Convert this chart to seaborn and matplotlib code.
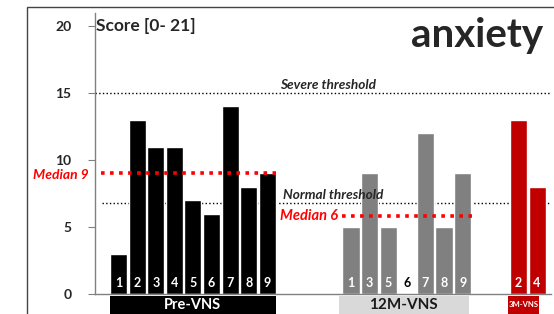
import numpy as np
import pandas as pd
import matplotlib
matplotlib.use("Agg")
import matplotlib.pyplot as plt
import matplotlib.transforms as mtransforms
from matplotlib.patches import Rectangle
import seaborn as sns

# ---------------- data ----------------
pre_ids = ["1", "2", "3", "4", "5", "6", "7", "8", "9"]
pre_scores = [3, 13, 11, 11, 7, 6, 14, 8, 9]
m12_ids = ["1", "3", "5", "6", "7", "8", "9"]
m12_scores = [5, 9, 5, 0, 12, 5, 9]
m3_ids = ["2", "4"]
m3_scores = [13, 8]
group_names = ["Pre-VNS", "12M-VNS", "3M-VNS"]
median_labels = ["Median 9", "Median 6"]
median_values = [9, 5.8]
threshold_labels = ["Severe threshold", "Normal threshold"]
threshold_values = [15, 6.8]
yticks = [0, 5, 10, 15, 20]
y_title = "Score [0- 21]"
panel_title = "anxiety"

# ---------------- layout / style ----------------
group_start = [0.0, 12.5, 21.5]
group_colors = {"Pre-VNS": "#000000", "12M-VNS": "#808080", "3M-VNS": "#c00000"}
box_colors = ["#000000", "#d9d9d9", "#c00000"]
box_text_colors = ["white", "#1a1a1a", "white"]
box_font = [10.5, 11, 5.5]
box_pad = [(0.46, 0.46), (0.66, 0.32), (0.54, 0.13)]

sns.set_style("white")
plt.rcParams["font.family"] = ["Lato", "DejaVu Sans"]

rows = []
for g, ids, scores in zip(group_names, [pre_ids, m12_ids, m3_ids],
                          [pre_scores, m12_scores, m3_scores]):
    start = group_start[group_names.index(g)]
    for i, (pid, s) in enumerate(zip(ids, scores)):
        rows.append({"group": g, "pid": pid, "score": s, "pos": start + i})
df = pd.DataFrame(rows)

fig = plt.figure(figsize=(5.54, 3.14), dpi=100)
ax = fig.add_axes([95 / 554, 20 / 314, 459 / 554, 281.4 / 314])

sns.barplot(data=df, x="pos", y="score", hue="group", palette=group_colors,
            native_scale=True, width=0.92, dodge=False, legend=False,
            saturation=1, errorbar=None, ax=ax)

ax.set_xlim(-1.263, 23.41)
ax.set_ylim(0, 21)
ax.set_xticks([])
ax.set_xlabel("")
ax.set_ylabel("")
ax.set_yticks(yticks)
ax.set_yticklabels([str(t) for t in yticks], fontweight="bold", fontsize=10)
ax.tick_params(axis="y", left=True, length=5, width=0.8, color="#808080", pad=12)
for s in ["top", "right"]:
    ax.spines[s].set_visible(False)
for s in ["left", "bottom"]:
    ax.spines[s].set_color("#808080")
    ax.spines[s].set_linewidth(1.0)
ax.spines["bottom"].set_bounds(-1.263, 23.25)

# threshold lines
ax.plot([-1.263, 23.25], [threshold_values[0]] * 2, ls=":", color="black", lw=1.0, zorder=0.5)
ax.plot([-0.9, 23.25], [threshold_values[1]] * 2, ls=":", color="black", lw=1.0, zorder=0.5)
ax.text(8.67, threshold_values[0] + 0.12, threshold_labels[0], fontsize=9.8,
        fontweight="bold", style="italic", va="bottom", ha="left")
ax.text(8.83, threshold_values[1] + 0.12, threshold_labels[1], fontsize=9.8,
        fontweight="bold", style="italic", va="bottom", ha="left")

# median lines
ax.plot([-0.95, 8.46], [median_values[0]] * 2, color="#ff0000", lw=2.6,
        ls=(0, (1, 1.5)), zorder=3, clip_on=False)
ax.plot([12.0, 19.04], [median_values[1]] * 2, color="#ff0000", lw=2.6,
        ls=(0, (1, 1.5)), zorder=3)
ax.text(-1.58, median_values[0] - 0.1, median_labels[0], color="#ff0000", fontsize=10,
        fontweight="bold", style="italic", ha="right", va="center", clip_on=False)
ax.text(11.78, median_values[1], median_labels[1], color="#ff0000", fontsize=10.5,
        fontweight="bold", style="italic", ha="right", va="center")

# bar id labels
for _, r in df.iterrows():
    col = "white" if r["score"] > 1.5 else "black"
    ax.text(r["pos"], 0.8, r["pid"], color=col, fontsize=9, fontweight="bold",
            ha="center", va="center")

# group label boxes
trans = mtransforms.blended_transform_factory(ax.transData, ax.transAxes)
for gi, (g, ids) in enumerate(zip(group_names, [pre_ids, m12_ids, m3_ids])):
    x0 = group_start[gi] - box_pad[gi][0]
    x1 = group_start[gi] + len(ids) - 1 + box_pad[gi][1]
    ax.add_patch(Rectangle((x0, -0.12), x1 - x0, 0.113, transform=trans,
                           facecolor=box_colors[gi], edgecolor="none", clip_on=False))
    ax.text((x0 + x1) / 2, -0.039, g, transform=trans, color=box_text_colors[gi],
            fontsize=box_font[gi], fontweight="bold", ha="center", va="center",
            clip_on=False)

# titles
ax.text(-1.21, 20, y_title, fontsize=12.5, fontweight="bold", ha="left", va="center")
ax.text(22.85, 19.3, panel_title, fontsize=29, fontweight="bold", ha="right", va="center")

# outer frame
fig.add_artist(Rectangle((27 / 554, -0.5), 2.0, 0.5 + (1 - 7.3 / 314),
                         transform=fig.transFigure, fill=False,
                         edgecolor="#444444", lw=1.0))

fig.savefig("out.png", dpi=100)
